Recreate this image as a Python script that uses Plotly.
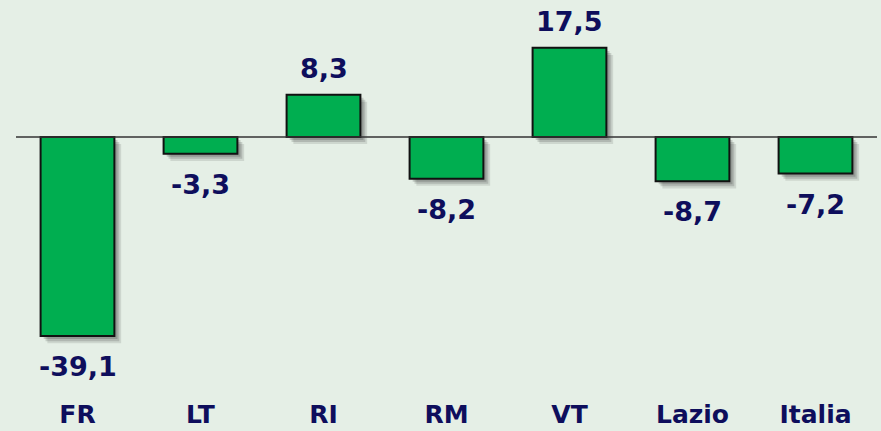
import plotly.graph_objects as go

# data
categories = ["FR", "LT", "RI", "RM", "VT", "Lazio", "Italia"]
values = [-39.1, -3.3, 8.3, -8.2, 17.5, -8.7, -7.2]
labels = ["-39,1", "-3,3", "8,3", "-8,2", "17,5", "-8,7", "-7,2"]

BG = "#E5EFE6"
GREEN = "#00AE50"
NAVY = "#0E0E5C"
FONT = "DejaVu Sans"
BAR_W = 0.6

fig = go.Figure()

# soft drop shadow: a few offset translucent copies drawn under the bars
for dx, dy, alpha in [(0.055, 1.4, 0.10), (0.04, 1.0, 0.14), (0.025, 0.6, 0.16)]:
    fig.add_trace(go.Bar(
        x=categories, y=values, base=-dy,
        width=BAR_W, offset=-BAR_W / 2 + dx,
        marker=dict(color=f"rgba(0,0,0,{alpha})", line=dict(width=0)),
        hoverinfo="skip", showlegend=False,
    ))

fig.add_trace(go.Bar(
    x=categories, y=values, width=BAR_W,
    marker=dict(color=GREEN, line=dict(color="#111111", width=2)),
    showlegend=False,
))

# value labels
for c, v, t in zip(categories, values, labels):
    fig.add_annotation(
        x=c, y=v, text=f"<b>{t}</b>", showarrow=False,
        yanchor="bottom" if v > 0 else "top",
        yshift=9 if v > 0 else -13,
        font=dict(family=FONT, size=27, color=NAVY),
    )

# zero line across the whole plot
fig.add_shape(type="line", xref="paper", x0=0, x1=1, yref="y", y0=0, y1=0,
              line=dict(color="#333333", width=1.5), layer="above")

fig.update_layout(
    width=881, height=431, autosize=False,
    margin=dict(l=16, r=4, t=0, b=42),
    paper_bgcolor=BG, plot_bgcolor=BG,
    barmode="overlay",
    font=dict(family=FONT, color=NAVY),
)
fig.update_xaxes(
    range=[-0.5, 6.5], showgrid=False, zeroline=False, showline=False,
    tickfont=dict(family=FONT, size=25, color=NAVY),
    tickprefix="<b>", ticksuffix="</b>", ticklabelstandoff=8,
)
fig.update_yaxes(range=[-49.5, 26.9], visible=False)

fig.write_html(
    "out.html",
    config={"displayModeBar": False},
    post_script="document.body.style.margin='0';document.body.style.background='%s';" % BG,
)
